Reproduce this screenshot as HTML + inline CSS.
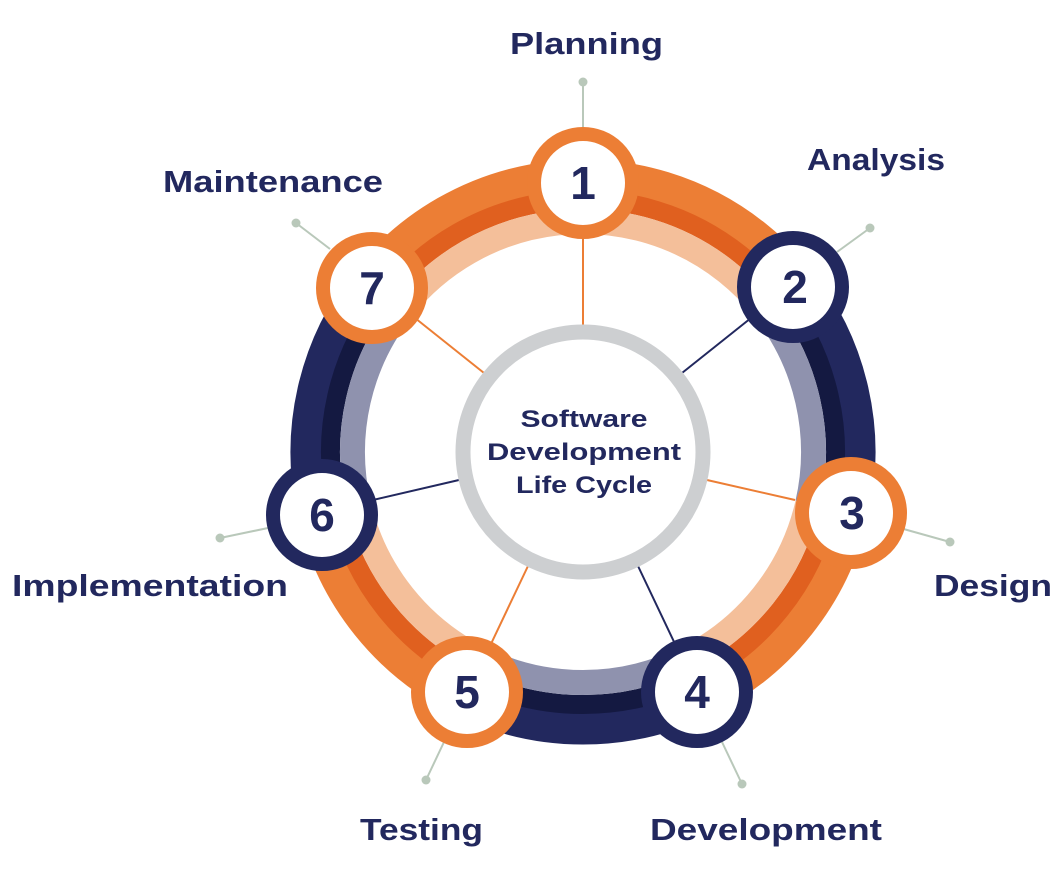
<!DOCTYPE html>
<html><head><meta charset="utf-8"><style>
html,body{margin:0;padding:0;background:#fff;}
svg{display:block;}
text{font-family:"Liberation Sans",sans-serif;font-weight:bold;fill:#22285E;}
</style></head><body>
<svg width="1058" height="888" viewBox="0 0 1058 888" xmlns="http://www.w3.org/2000/svg">
<g fill="none">
<!-- orange 218.6 -> 321.4 -->
<g transform="rotate(218.6 583 452)">
<circle cx="583" cy="452" r="277" pathLength="360" stroke="#EC7E35" stroke-width="31" stroke-dasharray="102.8 400"/>
<circle cx="583" cy="452" r="252.5" pathLength="360" stroke="#E0601F" stroke-width="19" stroke-dasharray="102.8 400"/>
<circle cx="583" cy="452" r="230.5" pathLength="360" stroke="#F4BF9A" stroke-width="25" stroke-dasharray="102.8 400"/>
</g>
<g transform="rotate(-38.6 583 452)">
<circle cx="583" cy="452" r="277" pathLength="360" stroke="#22285E" stroke-width="31" stroke-dasharray="51.5 400"/>
<circle cx="583" cy="452" r="252.5" pathLength="360" stroke="#141941" stroke-width="19" stroke-dasharray="51.5 400"/>
<circle cx="583" cy="452" r="230.5" pathLength="360" stroke="#8F92AE" stroke-width="25" stroke-dasharray="51.5 400"/>
</g>
<g transform="rotate(12.9 583 452)">
<circle cx="583" cy="452" r="277" pathLength="360" stroke="#EC7E35" stroke-width="31" stroke-dasharray="51.4 400"/>
<circle cx="583" cy="452" r="252.5" pathLength="360" stroke="#E0601F" stroke-width="19" stroke-dasharray="51.4 400"/>
<circle cx="583" cy="452" r="230.5" pathLength="360" stroke="#F4BF9A" stroke-width="25" stroke-dasharray="51.4 400"/>
</g>
<g transform="rotate(64.3 583 452)">
<circle cx="583" cy="452" r="277" pathLength="360" stroke="#22285E" stroke-width="31" stroke-dasharray="51.4 400"/>
<circle cx="583" cy="452" r="252.5" pathLength="360" stroke="#141941" stroke-width="19" stroke-dasharray="51.4 400"/>
<circle cx="583" cy="452" r="230.5" pathLength="360" stroke="#8F92AE" stroke-width="25" stroke-dasharray="51.4 400"/>
</g>
<g transform="rotate(115.7 583 452)">
<circle cx="583" cy="452" r="277" pathLength="360" stroke="#EC7E35" stroke-width="31" stroke-dasharray="51.4 400"/>
<circle cx="583" cy="452" r="252.5" pathLength="360" stroke="#E0601F" stroke-width="19" stroke-dasharray="51.4 400"/>
<circle cx="583" cy="452" r="230.5" pathLength="360" stroke="#F4BF9A" stroke-width="25" stroke-dasharray="51.4 400"/>
</g>
<g transform="rotate(167.1 583 452)">
<circle cx="583" cy="452" r="277" pathLength="360" stroke="#22285E" stroke-width="31" stroke-dasharray="51.5 400"/>
<circle cx="583" cy="452" r="252.5" pathLength="360" stroke="#141941" stroke-width="19" stroke-dasharray="51.5 400"/>
<circle cx="583" cy="452" r="230.5" pathLength="360" stroke="#8F92AE" stroke-width="25" stroke-dasharray="51.5 400"/>
</g>
</g>
<!-- spokes -->
<g stroke-width="2">
<line x1="583" y1="325" x2="583" y2="239" stroke="#EC7E35"/>
<line x1="682" y1="373" x2="751" y2="318" stroke="#22285E"/>
<line x1="707" y1="480" x2="795" y2="500" stroke="#EC7E35"/>
<line x1="638" y1="566" x2="676" y2="646" stroke="#22285E"/>
<line x1="528" y1="566" x2="490" y2="646" stroke="#EC7E35"/>
<line x1="459" y1="480" x2="373" y2="500" stroke="#22285E"/>
<line x1="484" y1="373" x2="415" y2="318" stroke="#EC7E35"/>
</g>
<!-- gray ring -->
<circle cx="583" cy="452" r="120" fill="#fff" stroke="#CDCFD1" stroke-width="15"/>
<!-- outer connectors -->
<g stroke="#B9C8BA" stroke-width="2" fill="#B9C8BA">
<line x1="583" y1="127" x2="583" y2="82"/><circle cx="583" cy="82" r="4.5" stroke="none"/>
<line x1="837" y1="252" x2="870" y2="228"/><circle cx="870" cy="228" r="4.5" stroke="none"/>
<line x1="900" y1="528" x2="950" y2="542"/><circle cx="950" cy="542" r="4.5" stroke="none"/>
<line x1="722" y1="742" x2="742" y2="784"/><circle cx="742" cy="784" r="4.5" stroke="none"/>
<line x1="444" y1="742" x2="426" y2="780"/><circle cx="426" cy="780" r="4.5" stroke="none"/>
<line x1="268" y1="528" x2="220" y2="538"/><circle cx="220" cy="538" r="4.5" stroke="none"/>
<line x1="330" y1="249" x2="296" y2="223"/><circle cx="296" cy="223" r="4.5" stroke="none"/>
</g>
<!-- nodes -->
<g fill="#fff" stroke-width="14">
<circle cx="583" cy="183" r="49" stroke="#EC7E35"/>
<circle cx="793" cy="287" r="49" stroke="#22285E"/>
<circle cx="851" cy="513" r="49" stroke="#EC7E35"/>
<circle cx="697" cy="692" r="49" stroke="#22285E"/>
<circle cx="467" cy="692" r="49" stroke="#EC7E35"/>
<circle cx="322" cy="515" r="49" stroke="#22285E"/>
<circle cx="372" cy="288" r="49" stroke="#EC7E35"/>
</g>
<g font-size="46" text-anchor="middle">
<text x="583" y="199">1</text>
<text x="795" y="303">2</text>
<text x="852" y="529">3</text>
<text x="697" y="708">4</text>
<text x="467" y="708">5</text>
<text x="322" y="531">6</text>
<text x="372" y="304">7</text>
</g>
<g font-size="24" text-anchor="middle">
<text x="584" y="427" textLength="127" lengthAdjust="spacingAndGlyphs">Software</text>
<text x="584" y="460" textLength="194" lengthAdjust="spacingAndGlyphs">Development</text>
<text x="584" y="493" textLength="136" lengthAdjust="spacingAndGlyphs">Life Cycle</text>
</g>
<g font-size="31">
<text x="510" y="54" textLength="153" lengthAdjust="spacingAndGlyphs">Planning</text>
<text x="807" y="170" textLength="138" lengthAdjust="spacingAndGlyphs">Analysis</text>
<text x="163" y="192" textLength="220" lengthAdjust="spacingAndGlyphs">Maintenance</text>
<text x="934" y="596" textLength="118" lengthAdjust="spacingAndGlyphs">Design</text>
<text x="12" y="596" textLength="276" lengthAdjust="spacingAndGlyphs">Implementation</text>
<text x="360" y="840" textLength="123" lengthAdjust="spacingAndGlyphs">Testing</text>
<text x="650" y="840" textLength="232" lengthAdjust="spacingAndGlyphs">Development</text>
</g>
</svg>
</body></html>
